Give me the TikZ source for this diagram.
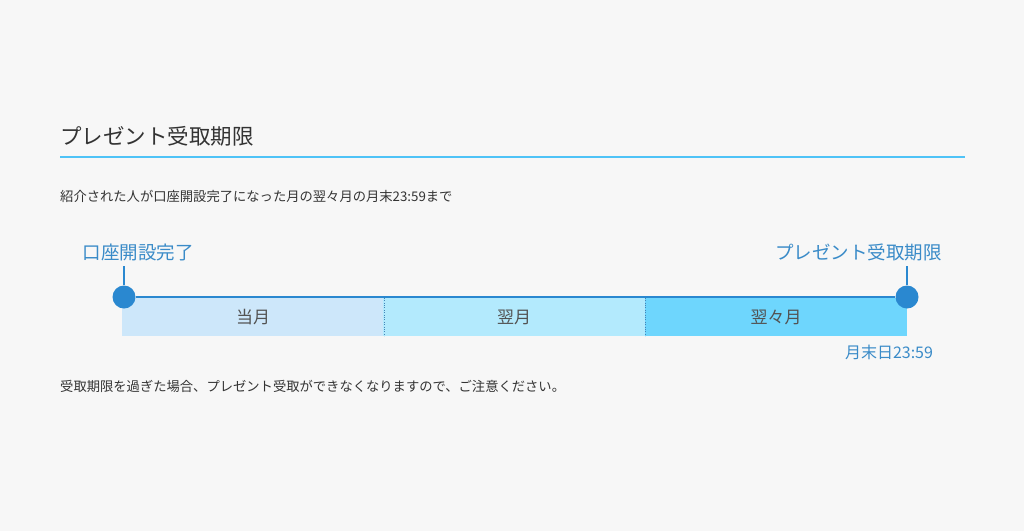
\documentclass[tikz,border=0pt]{standalone}
\usepackage{fontspec}
\setmainfont{Noto Sans CJK JP}
\usepackage{tikz}
\usetikzlibrary{calc}
\definecolor{bg}{HTML}{F7F7F7}
\definecolor{ink}{HTML}{333333}
\definecolor{rulecol}{HTML}{4FC3F7}
\definecolor{dotblue}{HTML}{2A88D0}
\definecolor{labelblue}{HTML}{3A8BC8}
\definecolor{monthA}{HTML}{CDE7FA}
\definecolor{monthB}{HTML}{B3EAFD}
\definecolor{monthC}{HTML}{6ED6FD}

\begin{document}
\begin{tikzpicture}[x=1pt,y=-1pt,
  dot/.style={circle,fill=dotblue,minimum size=23pt,inner sep=0pt},
  month/.style={minimum width=262pt,minimum height=38pt,inner sep=0pt,
    text=ink!85,font=\fontsize{17}{20}\selectfont},
  tag/.style={inner sep=0pt,text=labelblue,font=\fontsize{18.5}{22}\selectfont},
  note/.style={anchor=west,inner sep=0pt,text=ink,font=\fontsize{13.3}{16}\selectfont}]
  \useasboundingbox[fill=bg] (0,0) rectangle (1024,531);

  % heading
  \node(title)[anchor=west,inner sep=0pt,text=ink,font=\fontsize{21.5}{26}\selectfont] at (60,136) {プレゼント受取期限};
  \coordinate(ruleL) at (60,157);
  \coordinate(ruleR) at (965,157);
  \draw[rulecol,line width=2pt] (ruleL) -- (ruleR);
  \node(intro)[note] at (60,196) {紹介された人が口座開設完了になった月の翌々月の月末23:59まで};

  % months
  \node(m1)[month,fill=monthA] at (253,317) {当月};
  \node(m2)[month,fill=monthB] at (514,317) {翌月};
  \node(m3)[month,fill=monthC] at (776,317) {翌々月};
  \draw[dotted,color=dotblue!70!gray] (m1.north east) -- (m1.south east);
  \draw[dotted,color=dotblue!70!gray] (m2.north east) -- (m2.south east);

  % timeline
  \node(start)[dot] at (124,297) {};
  \node(end)[dot] at (907,297) {};
  \draw[dotblue,line width=1.6pt] (start.east) -- (end.west);

  \node(open)[tag] at (138,252) {口座開設完了};
  \node(limit)[tag] at (858.5,252) {プレゼント受取期限};
  \draw[dotblue,line width=1.2pt] (start.north) -- ($(start |- open.south)+(0,5)$);
  \draw[dotblue,line width=1.2pt] (end.north) -- ($(end |- limit.south)+(0,5)$);
  \node(due)[inner sep=0pt,text=labelblue,font=\fontsize{16}{19}\selectfont] at (889,352) {月末日23:59};

  \node(warn)[note] at (60,386) {受取期限を過ぎた場合、プレゼント受取ができなくなりますので、ご注意ください。};
\end{tikzpicture}
\end{document}
